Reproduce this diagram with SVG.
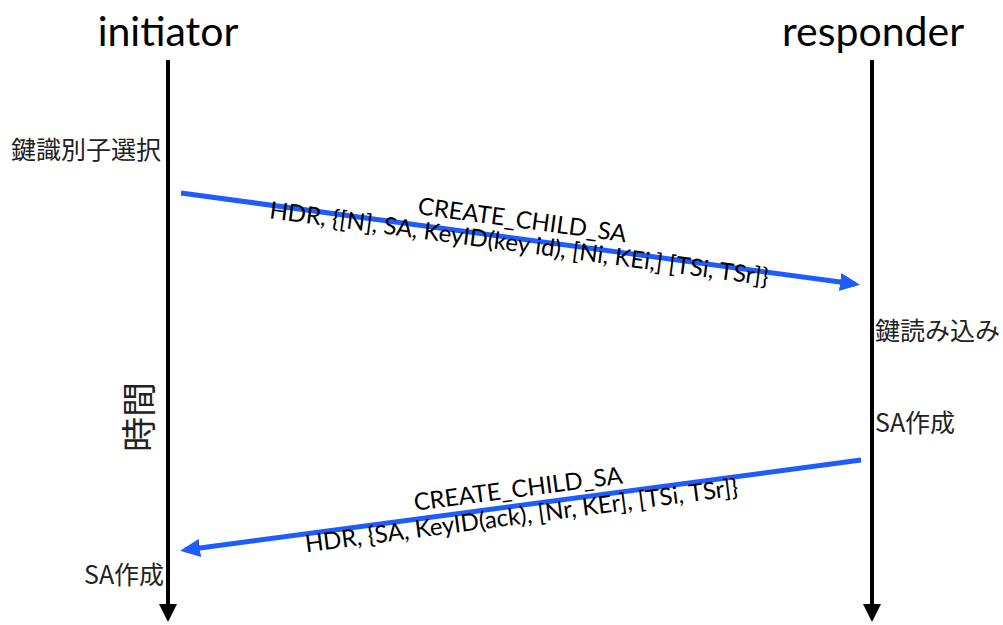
<svg xmlns="http://www.w3.org/2000/svg" width="1003" height="625" viewBox="0 0 1003 625">
  <defs>
    <marker id="lifeHead" markerWidth="6" markerHeight="6" refX="3" refY="2.25" orient="auto" markerUnits="strokeWidth">
      <path d="M0,0 L4.5,2.25 L0,4.5 z" fill="#000"/>
    </marker>
    <marker id="msgHead" markerWidth="6" markerHeight="6" refX="3" refY="1.8" orient="auto" markerUnits="strokeWidth">
      <path d="M0,0 L4,1.8 L0,3.6 z" fill="#1f5cff"/>
    </marker>
    <style>
      .title { font-family: Lato, "Liberation Sans", sans-serif; font-size: 41px; fill: #000; text-anchor: middle; }
      .msg { font-family: Lato, "Liberation Sans", sans-serif; font-size: 24px; fill: #000; text-anchor: middle; }
      .note { font-family: "Noto Sans CJK JP", "Noto Sans", sans-serif; font-size: 25px; fill: #222; }
      .life { stroke: #000; stroke-width: 4; fill: none; }
      .arrow { stroke: #1f5cff; stroke-width: 5; fill: none; }
    </style>
  </defs>
  <rect width="1003" height="625" fill="#fff"/>

  <!-- lifelines -->
  <g id="initiator">
    <text class="title" x="168" y="46">initiator</text>
    <line class="life" x1="168" y1="60" x2="168" y2="616" marker-end="url(#lifeHead)"/>
  </g>
  <g id="responder">
    <text class="title" x="873" y="46">responder</text>
    <line class="life" x1="872" y1="60" x2="872" y2="616" marker-end="url(#lifeHead)"/>
  </g>

  <!-- time axis label -->
  <g id="time-label">
    <text class="note" style="font-size:35px" text-anchor="middle" transform="translate(152,417) rotate(-90)">時間</text>
  </g>

  <!-- side notes -->
  <g id="note-key-select">
    <text class="note" x="11" y="159">鍵識別子選択</text>
  </g>
  <g id="note-key-load">
    <text class="note" x="875" y="340">鍵読み込み</text>
  </g>
  <g id="note-sa-resp">
    <text class="note" x="875" y="432">SA作成</text>
  </g>
  <g id="note-sa-init">
    <text class="note" x="84" y="584">SA作成</text>
  </g>

  <!-- messages -->
  <g id="connectors">
    <line class="arrow" x1="181" y1="193" x2="855" y2="284" marker-end="url(#msgHead)"/>
    <line class="arrow" x1="861" y1="460" x2="185" y2="550" marker-end="url(#msgHead)"/>
  </g>

  <g id="msg-request" transform="translate(520,237) rotate(7.7)">
    <text class="msg" x="0" y="-9">CREATE_CHILD_SA</text>
    <text class="msg" x="0" y="15">HDR, {[N], SA, KeyID(key id), [Ni, KEi,] [TSi, TSr]}</text>
  </g>
  <g id="msg-response" transform="translate(520,504) rotate(-7.5)">
    <text class="msg" x="0" y="-7">CREATE_CHILD_SA</text>
    <text class="msg" x="0" y="20">HDR, {SA, KeyID(ack), [Nr, KEr], [TSi, TSr]}</text>
  </g>
</svg>
